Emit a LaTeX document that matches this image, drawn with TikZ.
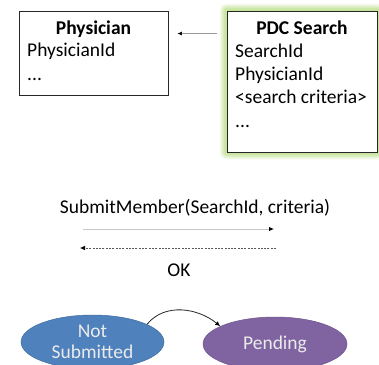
\documentclass[tikz,border=0pt]{standalone}
\usepackage{fontspec}
\setmainfont{Carlito}
\usetikzlibrary{arrows.meta,shapes.geometric}
\definecolor{glow}{HTML}{C6E49C}
\definecolor{nsblue}{HTML}{4F81BD}
\definecolor{pdpurple}{HTML}{8064A2}
\tikzset{
  entbox/.style={draw=black!85, line width=0.9pt, fill=white, rectangle, inner sep=0pt},
  title/.style={font=\fontsize{19.5}{22}\selectfont\bfseries, anchor=base, inner sep=0pt},
  field/.style={font=\fontsize{19.5}{22}\selectfont, anchor=base west, inner sep=0pt},
  lbl/.style={font=\fontsize{19.5}{22}\selectfont, inner sep=0pt},
  msgarrow/.style={draw=black!22, line width=0.9pt, -{Latex[black,length=5pt,width=4.5pt]}},
  retarrow/.style={draw=black!65, line width=0.6pt, dash pattern=on 2pt off 1.3pt, -{Latex[black,length=5pt,width=4.5pt]}},
  state/.style={ellipse, inner sep=0pt, line width=0.5pt, text=white!92!black, font=\fontsize{19.5}{21}\selectfont, align=center},
  trans/.style={draw=black!85, line width=0.8pt, -{Latex[black,length=5pt,width=4.5pt]}}
}
\begin{document}
\begin{tikzpicture}[x=1pt,y=-1pt]
\useasboundingbox (0,0) rectangle (379,364);
\clip (0,0) rectangle (379,364);
% glow around PDC box
\foreach \g/\o in {7.5/0.18,6/0.3,4.5/0.45,3/0.65,1.5/0.9}{
  \fill[glow, opacity=\o, rounded corners=\g pt] (227-\g,11-\g) rectangle (377+\g,152+\g);
}
\node[entbox, minimum width=149pt, minimum height=84pt] (phys) at (93.5,53) {};
\node[entbox, minimum width=150pt, minimum height=141pt] (pdc) at (302,81.5) {};
\node[title] (physT) at (93.5,34) {Physician};
\node[field] (physA) at (27,56) {PhysicianId};
\node[field] (physB) at (27,80) {...};
\node[title] (pdcT) at (302,34) {PDC Search};
\node[field] (pdcA) at (235,57) {SearchId};
\node[field] (pdcB) at (235,80) {PhysicianId};
\node[field] (pdcC) at (235,103) {<search criteria>};
\node[field] (pdcD) at (235,127) {...};
\draw[draw=black!40, line width=0.6pt, -{Latex[black,length=4.5pt,width=4pt]}, shorten <=10pt, shorten >=9pt] ([yshift=-23pt]pdc.north west) -- ([yshift=-23pt]phys.north east);
% messages
\node[lbl] (submit) at (195,208) {SubmitMember(SearchId, criteria)};
\node[lbl] (ok) at (179,270) {OK};
\coordinate (s1) at (83,229);
\coordinate (s2) at (274,229);
\coordinate (d1) at (276,248);
\coordinate (d2) at (80,248);
\draw[msgarrow] (s1) -- (s2);
\draw[retarrow] (d1) -- (d2);
% states
\node[state, fill=nsblue, draw=nsblue!85!black, minimum width=143pt, minimum height=54pt] (ns) at (92.5,342) {Not\\Submitted};
\node[state, fill=pdpurple, draw=pdpurple!85!black, minimum width=144pt, minimum height=54pt] (pd) at (275,344) {Pending};
\draw[trans] (ns.18.6) .. controls +(18,-22) and +(-22,-18) .. (pd.162);
\end{tikzpicture}
\end{document}
